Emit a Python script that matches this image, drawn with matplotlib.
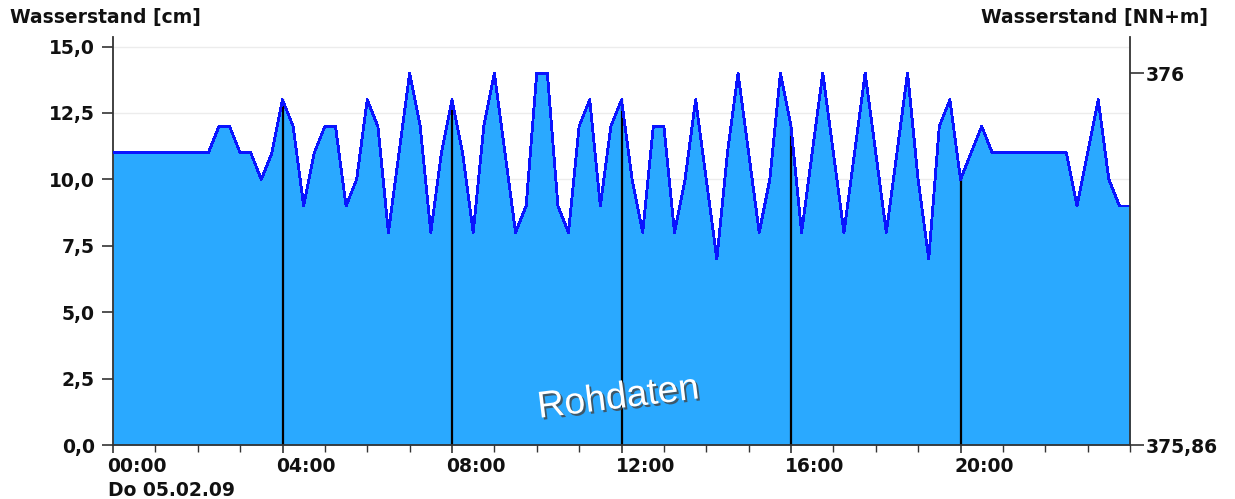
import matplotlib
matplotlib.use("Agg")
import matplotlib.pyplot as plt
import matplotlib.patheffects as pe
import matplotlib.transforms as mtransforms
from matplotlib.font_manager import FontProperties
from matplotlib.ticker import FixedLocator, FuncFormatter, MultipleLocator
import numpy as np

# 15-minute readings of the gauge on 05.02.09, 00:00 .. 24:00 (cm)
interval_h = 0.25
water_cm = [
    11, 11, 11, 11, 11, 11, 11, 11, 11, 11,   # 00:00 - 02:15
    12, 12, 11, 11, 10, 11, 13, 12, 9, 11,    # 02:30 - 04:45
    12, 12, 9, 10, 13, 12, 8, 11, 14, 12,     # 05:00 - 07:15
    8, 11, 13, 11, 8, 12, 14, 11, 8, 9,       # 07:30 - 09:45
    14, 14, 9, 8, 12, 13, 9, 12, 13, 10,      # 10:00 - 12:15
    8, 12, 12, 8, 10, 13, 10, 7, 11, 14,      # 12:30 - 14:45
    11, 8, 10, 14, 12, 8, 11, 14, 11, 8,      # 15:00 - 17:15
    11, 14, 11, 8, 11, 14, 10, 7, 12, 13,     # 17:30 - 19:45
    10, 11, 12, 11, 11, 11, 11, 11, 11, 11,   # 20:00 - 22:15
    11, 9, 11, 13, 10, 9, 9,                  # 22:30 - 24:00
]
marker_hours = [4, 8, 12, 16, 20]
left_ticks = [0.0, 2.5, 5.0, 7.5, 10.0, 12.5, 15.0]
right_ticks = [375.86, 376.0]
right_labels = ["375,86", "376"]
zero_level_m = 375.86
xtick_hours = [0, 4, 8, 12, 16, 20]
xtick_labels = ["00:00", "04:00", "08:00", "12:00", "16:00", "20:00"]
date_label = "Do 05.02.09"

hours = np.arange(len(water_cm)) * interval_h
values = np.array(water_cm, dtype=float)

W, H = 1235, 499
fig = plt.figure(figsize=(W / 100, H / 100), dpi=100)
ax = fig.add_axes([113 / W, (H - 445) / H, (1130 - 113) / W, (445 - 37) / H])

ymax = 15.36
ax.set_xlim(0, 24)
ax.set_ylim(0, ymax)

fill_col = "#2aa9ff"
line_col = "#0a14ff"
ink = "#111111"
axis_col = "#333333"

for t in left_ticks[1:]:
    ax.axhline(t, color="#ececec", lw=1.0, zorder=0)

ax.fill_between(hours, 0, values, color=fill_col, lw=0, zorder=1)
ax.plot(hours, values, color=line_col, lw=1.3, zorder=3, antialiased=False)

# black markers every four hours, up to the reading at that time
for h in marker_hours:
    v = np.interp(h, hours, values)
    ax.plot([h, h], [0, v], color="black", lw=1.6, zorder=2)

tick_font = FontProperties(family="DejaVu Sans", weight="bold", size=13.5)
title_font = dict(family="DejaVu Sans", weight="bold", size=13.5, color=ink)

ax.yaxis.set_major_locator(FixedLocator(left_ticks))
ax.yaxis.set_major_formatter(FuncFormatter(lambda v, p: f"{v:.1f}".replace(".", ",")))
ax.xaxis.set_major_locator(FixedLocator(xtick_hours))
ax.set_xticklabels(xtick_labels)
ax.xaxis.set_minor_locator(MultipleLocator(1))

ax.tick_params(axis="y", direction="out", length=8, width=1.2, color=axis_col, pad=5)
ax.tick_params(axis="x", which="major", direction="out", length=6, width=1.2, color=axis_col, pad=3)
ax.tick_params(axis="x", which="minor", direction="out", length=5, width=1.0, color=axis_col)

for lab in ax.get_yticklabels() + ax.get_xticklabels():
    lab.set_fontproperties(tick_font)
    lab.set_color(ink)

# time labels start just left of their tick
shift = mtransforms.ScaledTranslation(-6 / 100, 0, fig.dpi_scale_trans)
for lab in ax.get_xticklabels():
    lab.set_horizontalalignment("left")
    lab.set_transform(lab.get_transform() + shift)

for side in ("top", "right"):
    ax.spines[side].set_visible(False)
for side in ("left", "bottom"):
    ax.spines[side].set_linewidth(1.3)
    ax.spines[side].set_color(axis_col)

# right-hand scale in metres above sea level
ax2 = ax.twinx()
ax2.set_ylim(zero_level_m, zero_level_m + ymax / 100.0)
ax2.yaxis.set_major_locator(FixedLocator(right_ticks))
ax2.set_yticklabels(right_labels)
ax2.tick_params(axis="y", direction="out", length=10, width=1.2, color=axis_col, pad=1)
for lab in ax2.get_yticklabels():
    lab.set_fontproperties(tick_font)
    lab.set_color(ink)
for side in ("top", "left", "bottom"):
    ax2.spines[side].set_visible(False)
ax2.spines["right"].set_linewidth(1.3)
ax2.spines["right"].set_color(axis_col)

fig.text(10 / W, 1 - 18 / H, "Wasserstand [cm]", ha="left", va="center", **title_font)
fig.text(1208 / W, 1 - 18 / H, "Wasserstand [NN+m]", ha="right", va="center", **title_font)
fig.text(108 / W, 1 - 490 / H, date_label, ha="left", va="center", **title_font)

ax.text(0.497, 0.115, "Rohdaten", transform=ax.transAxes, ha="center", va="center",
        rotation=7, fontsize=27, family="Liberation Sans", color="white", zorder=4,
        path_effects=[pe.withSimplePatchShadow(offset=(1.5, -1.5), shadow_rgbFace="#444444", alpha=0.8)])

fig.savefig("out.png", dpi=100)
